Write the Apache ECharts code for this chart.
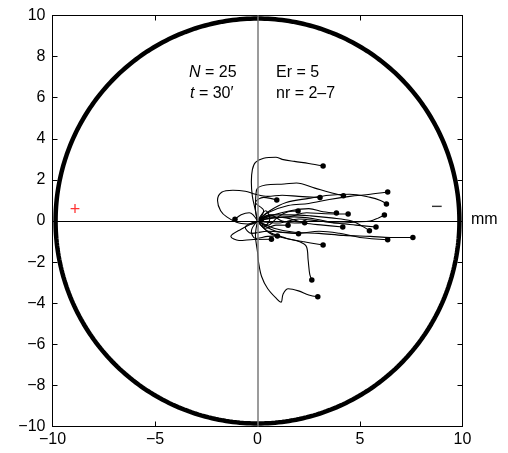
<!DOCTYPE html>
<html><head><meta charset="utf-8">
<script src="https://cdn.jsdelivr.net/npm/echarts@6/dist/echarts.min.js"></script>
<style>html,body{margin:0;padding:0;background:#fff}#c{width:508px;height:453px}</style>
</head><body><div id="c"></div>
<script>
// Axis ticks
const xTicks = [-10, -5, 0, 5, 10];
const yTicks = [-10, -8, -6, -4, -2, 0, 2, 4, 6, 8, 10];
const circleRadius = 9.85;

// Cell trajectories (mm), each from start to end point
const t01 = [[0,0],[-0.1,0.5],[-0.25,1.2],[-0.3,1.9],[-0.25,2.5],[-0.1,2.85],[0.3,3.05],[0.9,3.1],[1.2,3.0],[1.8,2.9],[2.5,2.8],[3.2,2.68]];
const t02 = [[0,0],[-0.3,-0.15],[-0.9,-0.1],[-1.5,0.2],[-1.8,0.5],[-1.95,1.0],[-1.75,1.4],[-1.2,1.5],[-0.6,1.45],[-0.1,1.3],[0.5,1.2],[1.2,1.25],[2.0,1.2],[3.05,1.14]];
const t03 = [[0,0],[-0.1,0.6],[-0.05,1.5],[0.4,1.75],[1.3,1.8],[1.9,1.85],[2.8,1.6],[3.5,1.4],[4.19,1.23]];
const t04 = [[0,0],[0.6,0.5],[1.4,0.9],[2.5,1.1],[3.5,1.25],[4.5,1.3],[5.5,1.15],[6.0,1.0],[6.29,0.83]];
const t05 = [[0,0],[0.5,0.4],[1.5,0.75],[2.5,0.85],[3.5,1.05],[4.5,1.2],[5.5,1.3],[6.35,1.41]];
const t06 = [[0,0],[0.3,0.5],[-0.1,0.9],[0.3,1.15],[0.94,1.02]];
const t07 = [[0,0],[0.5,-0.2],[1.0,0.2],[1.5,0.45],[1.98,0.49]];
const t08 = [[0,0],[0.8,0.3],[1.6,0.5],[2.5,0.6],[3.2,0.45],[3.85,0.39]];
const t09 = [[0,0],[0.7,0.15],[1.5,0.2],[2.4,0.4],[3.3,0.35],[4.42,0.34]];
const t10 = [[0,0],[1.0,-0.1],[2.0,0.1],[3.0,0.0],[4.0,-0.1],[4.8,-0.05],[5.5,0.0],[5.9,0.15],[6.19,0.29]];
const t11 = [[0,0],[0.6,0.3],[1.2,0.0],[1.8,-0.1],[2.3,-0.08]];
const t12 = [[0,0],[0.4,-0.35],[0.9,-0.2],[1.49,-0.21]];
const t13 = [[0,0],[0.8,0.15],[1.8,0.2],[2.8,0.1],[3.8,-0.1],[4.8,-0.2],[5.78,-0.29]];
const t14 = [[0,0],[0.5,0.2],[1.4,0.15],[2.3,-0.1],[3.2,-0.2],[4.16,-0.29]];
const t15 = [[0,0],[0.7,0.3],[1.6,0.3],[2.6,0.25],[3.6,0.15],[4.6,0.0],[5.1,-0.25],[5.46,-0.47]];
const t16 = [[0,0],[-0.6,-0.3],[-0.3,-0.6],[0.5,-0.5],[1.3,-0.55],[2.0,-0.62]];
const t17 = [[0,0],[-0.3,-0.5],[-0.1,-0.85],[0.5,-0.75],[0.97,-0.73]];
const t18 = [[0,0],[-0.8,-0.4],[-1.3,-0.75],[-0.9,-0.95],[-0.2,-0.9],[0.68,-0.89]];
const t19 = [[0,0],[0.8,-0.35],[1.8,-0.55],[3.0,-0.6],[4.2,-0.7],[5.5,-0.75],[6.5,-0.8],[7.58,-0.80]];
const t20 = [[0,0],[0.9,-0.5],[2.0,-0.6],[3.0,-0.5],[4.0,-0.6],[5.0,-0.8],[6.35,-0.91]];
const t21 = [[0,0],[0.6,-0.6],[1.4,-0.85],[2.2,-1.0],[3.2,-1.17]];
const t22 = [[0,0],[0.5,-0.5],[1.4,-0.84],[2.06,-1.01],[2.39,-1.25],[2.47,-1.9],[2.55,-2.6],[2.65,-2.87]];
const t23 = [[0,0],[-0.1,-0.7],[0.0,-1.5],[0.05,-2.0],[0.2,-2.7],[0.5,-3.3],[0.95,-3.8],[1.15,-3.95],[1.25,-3.55],[1.5,-3.3],[2.0,-3.4],[2.5,-3.6],[2.94,-3.69]];
const t24 = [[0,0],[-0.4,0.4],[-0.8,0.3],[-1.1,0.08]];
const t25 = [[0,0],[0.4,0.5],[0.6,0.1],[0.3,-0.3],[0.2,0.1]];
const tracks = [t01,t02,t03,t04,t05,t06,t07,t08,t09,t10,t11,t12,t13,t14,t15,t16,t17,t18,t19,t20,t21,t22,t23,t24,t25];

// Electrode markers
const signLabels = ['+', '\u2212'];
const signX = [-8.9, 8.75];
const signY = [0.55, 0.65];
const signColors = ['#ff0000', '#000000'];

const chart = echarts.init(document.getElementById('c'), null, {renderer: 'canvas'});
const minus = v => String(v).replace('-', '\u2212');
const FONT = '"Liberation Sans", Arial, Helvetica, sans-serif';
const FS = 16;

const circle = [];
for (let a = 0; a <= 360; a += 1) {
  const r = a * Math.PI / 180;
  circle.push([circleRadius * Math.cos(r), circleRadius * Math.sin(r)]);
}

const baseAxis = {
  type: 'value', min: -10, max: 10,
  axisLine: {show: true, onZero: false, lineStyle: {color: '#000', width: 1}},
  axisTick: {show: true, inside: true, length: 5, lineStyle: {color: '#000', width: 1}},
  splitLine: {show: false},
  axisLabel: {show: true, color: '#000', fontSize: FS, fontFamily: FONT, formatter: minus}
};

const series = [];
series.push({
  type: 'line', data: [], silent: true,
  markLine: {
    silent: true, symbol: 'none', label: {show: false}, animation: false,
    data: [
      {xAxis: 0, lineStyle: {color: '#7a7a7a', width: 1.5, type: 'solid'}},
      {yAxis: 0, lineStyle: {color: '#000', width: 1.2, type: 'solid'}}
    ]
  }
});
series.push({
  type: 'line', data: circle, showSymbol: false, silent: true,
  lineStyle: {color: '#000', width: 4.5}, animation: false
});
tracks.forEach(tr => {
  series.push({
    type: 'line', data: tr, showSymbol: false, smooth: 0.35, silent: true,
    lineStyle: {color: '#000', width: 1.1}, animation: false
  });
});
series.push({
  type: 'scatter', data: tracks.map(tr => tr[tr.length - 1]), symbolSize: 5.5,
  itemStyle: {color: '#000', opacity: 1}, silent: true, animation: false
});
series.push({
  type: 'scatter', symbolSize: 0, silent: true, animation: false,
  data: signX.map((x, i) => ({
    value: [x, signY[i]],
    label: {show: true, position: 'inside', formatter: signLabels[i], color: signColors[i], fontSize: i === 0 ? 18 : 20, fontFamily: FONT}
  }))
});

chart.setOption({
  animation: false,
  grid: {left: 52.5, right: 45.5, top: 15.5, bottom: 26.5, containLabel: false},
  xAxis: [
    Object.assign({}, baseAxis, {position: 'bottom', interval: 5, axisLabel: Object.assign({}, baseAxis.axisLabel, {margin: 5})}),
    Object.assign({}, baseAxis, {position: 'top', interval: 5, axisLabel: {show: false}})
  ],
  yAxis: [
    Object.assign({}, baseAxis, {position: 'left', interval: 2, axisLabel: Object.assign({}, baseAxis.axisLabel, {margin: 7})}),
    Object.assign({}, baseAxis, {position: 'right', interval: 2, axisLabel: {show: false}})
  ],
  series: series,
  graphic: [
    {type: 'text', left: 471, top: 212, style: {text: 'mm', fontSize: FS, fontFamily: FONT, fill: '#000'}},
    {type: 'text', left: 189, top: 65, style: {
      text: '{i|N} = 25', fontSize: FS, fontFamily: FONT, fill: '#000',
      rich: {i: {fontStyle: 'italic', fontSize: FS, fontFamily: FONT}}}},
    {type: 'text', left: 190, top: 86, style: {
      text: '{i|t} = 30′', fontSize: FS, fontFamily: FONT, fill: '#000',
      rich: {i: {fontStyle: 'italic', fontSize: FS, fontFamily: FONT}}}},
    {type: 'text', left: 276, top: 65, style: {text: 'Er = 5', fontSize: FS, fontFamily: FONT, fill: '#000'}},
    {type: 'text', left: 276, top: 86, style: {text: 'nr = 2–7', fontSize: FS, fontFamily: FONT, fill: '#000'}}
  ]
});
</script></body></html>
